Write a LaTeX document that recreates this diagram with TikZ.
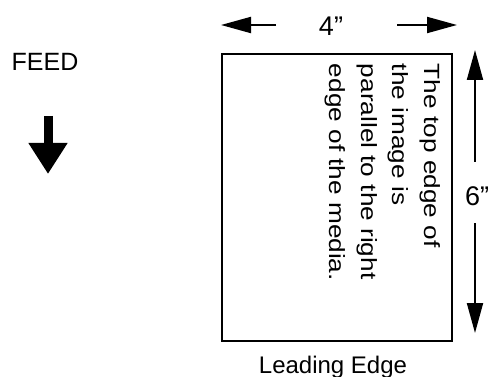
\documentclass[tikz,border=0pt]{standalone}
\usepackage{fontspec}
\setmainfont{Liberation Sans}
\newfontfamily\widefont[FakeStretch=1.19]{Liberation Sans}
\usetikzlibrary{arrows.meta,positioning}

\begin{document}
\begin{tikzpicture}[x=1pt, y=-1pt, line width=2pt,
        dim/.style={-{Triangle[length=30pt,width=16pt]}}]
      \tikzstyle{label} = [font=\fontsize{25}{30}\selectfont, inner sep=0pt]
      \useasboundingbox (0,0) rectangle (493,377);
      % media sheet
      \node (media) [draw, minimum width=230pt, minimum height=287pt, inner sep=0pt,
        anchor=north west] at (221,53) {};
      \node (note) [anchor=north west, rotate=-90, inner sep=0pt, align=left,
        font=\widefont\fontsize{22}{31.5}\selectfont] at (441,63)
        {The top edge of\\the image is\\parallel to the right\\edge of the media.};
      \node (lead) [label, font=\fontsize{24}{28}\selectfont, below=13pt of media, xshift=-4pt] {Leading Edge};
      % feed direction
      \node (feed) [label] at (45,62) {FEED};
      \coordinate (feedtop) at (48,116);
      \coordinate (feedtip) at (48,174);
      \draw [line width=9pt, -{Triangle[length=31pt,width=37pt]}] (feedtop) -- (feedtip);
      % width
      \node (width) [label, font=\fontsize{27}{30}\selectfont] at (331,26) {4”};
      \coordinate (wl) at (276,25);
      \coordinate (wr) at (397,25);
      \draw [dim] (wl) -- (media.west |- wl);
      \draw [dim] (wr) -- (457,25);
      % height
      \node (height) [label, font=\fontsize{27}{30}\selectfont] at (477,196) {6”};
      \coordinate (ht) at (475,162);
      \coordinate (hb) at (475,223);
      \draw [dim] (ht) -- (475,50);
      \draw [dim] (hb) -- (475,333);
    \end{tikzpicture}
\end{document}
